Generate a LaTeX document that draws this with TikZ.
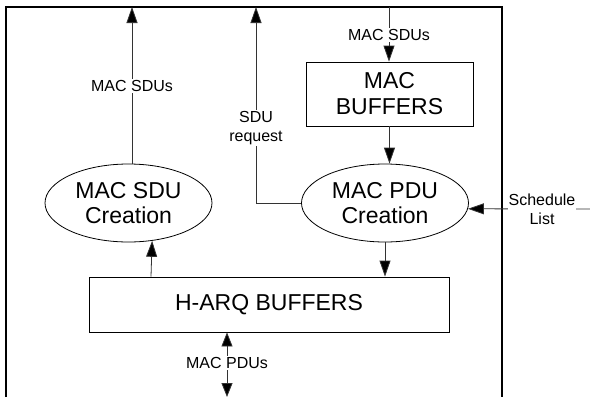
\documentclass[tikz,border=0pt]{standalone}
\usepackage{fontspec}
\setmainfont{Liberation Sans}
\usetikzlibrary{arrows.meta,shapes.geometric}
\begin{document}
\begin{tikzpicture}[x=1pt,y=-1pt,
  conn/.style={draw=black!80,line width=0.8pt},
  arr/.style={conn,-{Triangle[length=16pt,width=11pt,fill=black]}},
  darr/.style={conn,{Triangle[length=14pt,width=11pt,fill=black]}-{Triangle[length=14pt,width=11pt,fill=black]}},
  blob/.style={ellipse,draw,line width=0.8pt,inner sep=0pt,minimum width=167pt,minimum height=78pt,align=center,font=\fontsize{23}{24.5}\selectfont},
  boxn/.style={rectangle,draw,line width=0.8pt,inner sep=0pt,align=center,font=\fontsize{23}{26}\selectfont},
  lab/.style={fill=white,inner xsep=1pt,inner ysep=1.5pt,align=center,font=\fontsize{16}{19}\selectfont}]
\useasboundingbox (0,0) rectangle (590,397);
% outer frame
\draw[line width=1.1pt] (6,397) -- (6,7) -- (502,7) -- (502,397);
% nodes
\node[blob] (sduc) at (128.5,203) {MAC SDU\\Creation};
\node[blob] (pduc) at (385,203) {MAC PDU\\Creation};
\node[boxn,minimum width=167pt,minimum height=64pt] (macbuf) at (389.5,94) {MAC\\BUFFERS};
\node[boxn,minimum width=360pt,minimum height=55pt] (harq) at (269,304.5) {H-ARQ BUFFERS};
% free ends
\coordinate (top1) at (132,7);
\coordinate (top2) at (256,7);
\coordinate (top3) at (389,7);
\coordinate (bot) at (227,397);
\coordinate (hx) at (151,0);
\coordinate (schedR) at (590,209);
% connectors
\draw[arr] (top1 |- sduc.north) -- (top1);
\draw[arr] (pduc.west) -| (top2);
\draw[arr] (top3) -- (top3 |- macbuf.north);
\draw[arr] (macbuf.south) -- (macbuf.south |- pduc.north);
\draw[arr] (pduc.south) -- (pduc.south |- harq.north);
\draw[arr] (harq.north -| hx) -- (sduc.-58.5);
\draw[darr] (harq.south -| bot) -- (bot);
\draw[arr] (schedR) -- (pduc.-4.2);
% labels
\node[lab] (l1) at (132,86) {MAC SDUs};
\node[lab] (l2) at (256,128) {SDU\\request};
\node[lab] (l3) at (389,35) {MAC SDUs};
\node[lab] (l4) at (227,363) {MAC PDUs};
\node[lab] (l5) at (542,209) {Schedule\\List};
\end{tikzpicture}
\end{document}
